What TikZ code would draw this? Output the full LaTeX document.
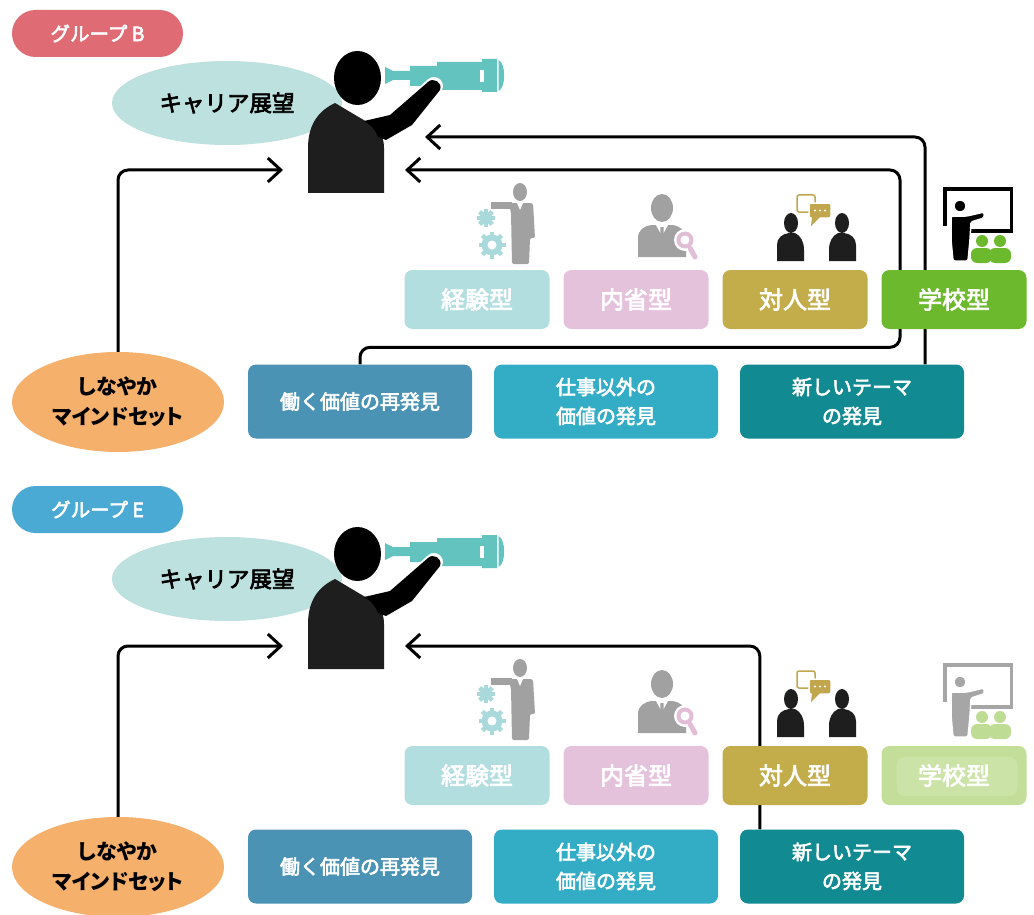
\documentclass[tikz,border=0pt]{standalone}
\usepackage{fontspec}
\setmainfont{Noto Sans CJK JP}
\newfontfamily\medfont[FakeBold=3]{Noto Sans CJK JP}
\usetikzlibrary{arrows.meta,shapes.geometric,backgrounds}

\definecolor{groupBc}{HTML}{DF6B74}
\definecolor{groupEc}{HTML}{4BAAD3}
\definecolor{visionc}{HTML}{BCE1DE}
\definecolor{scopec}{HTML}{62C3BF}
\definecolor{bodyc}{HTML}{1E1E1E}
\definecolor{expc}{HTML}{B3DEDF}
\definecolor{reflc}{HTML}{E4C2DC}
\definecolor{interc}{HTML}{C3AC4A}
\definecolor{schoolc}{HTML}{6DB92E}
\definecolor{schoolfadec}{HTML}{C3DE98}
\definecolor{schoolinnerc}{HTML}{CCE3A7}
\definecolor{workc}{HTML}{4B93B5}
\definecolor{otherc}{HTML}{33ADC6}
\definecolor{themec}{HTML}{118A91}
\definecolor{flexc}{HTML}{F5B06C}
\definecolor{gearc}{HTML}{A9D9DB}
\definecolor{iconc}{HTML}{A0A1A0}
\definecolor{lensc}{HTML}{E2BDD8}
\definecolor{bubblec}{HTML}{C2A64E}
\definecolor{personc}{HTML}{1E1E1E}
\definecolor{boardfadec}{HTML}{A6A6A6}
\definecolor{audiencefadec}{HTML}{BFDC95}

\tikzset{
  pill/.style={rounded corners=23.5pt, minimum width=171pt, minimum height=47pt,
    inner sep=0pt, text=white, font=\medfont\fontsize{19.5}{19.5}\selectfont},
  typebox/.style={rounded corners=8pt, minimum width=145pt, minimum height=59pt,
    inner sep=0pt, text=white, font=\medfont\fontsize{24}{24}\selectfont},
  findbox/.style={rounded corners=8pt, minimum width=224pt, minimum height=74pt,
    inner sep=0pt, text=white, align=center, font=\medfont\fontsize{20}{29}\selectfont},
  vision/.style={ellipse, fill=visionc, minimum width=230pt, minimum height=84pt,
    inner sep=0pt, font=\medfont\fontsize{22.5}{22.5}\selectfont},
  mindset/.style={ellipse, fill=flexc, minimum width=212pt, minimum height=100pt,
    inner sep=0pt, align=center,
    font=\bfseries\addfontfeatures{RawFeature=+palt}\fontsize{21}{30}\selectfont},
  flow/.style={line width=3pt, rounded corners=10pt,
    -{Straight Barb[length=13pt,width=24pt]}},
}

% gear: x, y, radius, hole radius
\newcommand{\drawgear}[4]{%
  \fill[gearc] (#1,#2) circle (#3pt);
  \foreach \a in {0,45,...,315}
    \fill[gearc, shift={(#1,#2)}, rotate=\a] (-2.2pt,0pt) rectangle (2.2pt,#3pt+3pt);
  \fill[white] (#1,#2) circle (#4pt);
}

% man with the spyglass
\newcommand{\lookout}{%
  \fill[scopec] (385,67) -- (393,71) -- (410,71) -- (410,66) -- (437,66) -- (437,62)
    -- (482,62) -- (482,59) -- (497,59) -- (497,92) -- (482,92) -- (482,90)
    -- (437,90) -- (437,86) -- (410,86) -- (410,80) -- (393,80) -- (385,84) -- cycle;
  \fill[scopec] (498.5,60) .. controls (506,63) and (506,88) .. (498.5,91) -- cycle;
  \fill[white] (480,70) rectangle (484,82);
  \fill[bodyc] (308,193) -- (308,148) .. controls (308,125) and (318,111) .. (335,103)
    -- (367,122) .. controls (378,127) and (384,135) .. (384,148) -- (384,193) -- cycle;
  \draw[white, line width=18pt, line cap=round] (412,106) -- (434,86);
  \fill[black] (364,121) -- (390,115) -- (428,82) .. controls (433,77) and (443,82) .. (440,90)
    -- (412,125) -- (386,140) -- (378,137) .. controls (375,129) and (371,125) .. cycle;
  \fill[black] (357.5,78) ellipse (23.5pt and 27pt);
}

\newcommand{\expicon}{%
  \fill[iconc] (520,192) ellipse (7pt and 9pt);
  \fill[iconc, rounded corners=2pt] (508,203) -- (533,203) -- (535,238) -- (530,238)
    -- (529,264) -- (512,264) -- (511,212) -- cycle;
  \fill[iconc] (491,202) rectangle (512,209);
  \fill[white] (517,203) -- (520,210) -- (523,203) -- cycle;
  \drawgear{486}{218}{6}{0}
  \drawgear{492}{245}{10.5}{4.5}
}

\newcommand{\reflicon}{%
  \fill[iconc] (662,208) ellipse (11pt and 14pt);
  \fill[iconc] (638,257) -- (638,238) .. controls (638,230) and (644,226) .. (652,225)
    -- (672,225) .. controls (680,226) and (685,230) .. (686,238) -- (686,257) -- cycle;
  \fill[white] (656,225) -- (662,236) -- (668,225) -- cycle;
  \fill[iconc] (660.5,227) -- (663.5,227) -- (664,240) -- (662,243) -- (660,240) -- cycle;
  \fill[white] (685,240) circle (11pt);
  \draw[lensc, line width=4pt] (685,240) circle (6.5pt);
  \draw[lensc, line width=5pt, line cap=round] (690,248) -- (695,257);
}

\newcommand{\intericon}{%
  \draw[bubblec, line width=1.5pt, rounded corners=2pt] (797,195) rectangle (815,212);
  \fill[bubblec, draw=white, line width=1.5pt, rounded corners=2pt] (809,203) rectangle (831,218);
  \fill[bubblec] (812,217) -- (811,226) -- (820,217) -- cycle;
  \foreach \d in {815,820,825} \fill[white] (\d,210.5) circle (1.2pt);
  \fill[personc] (791,223) ellipse (7pt and 10pt);
  \fill[personc] (842,223) ellipse (7pt and 10pt);
  \fill[personc] (777,261) -- (777,245) .. controls (777,238) and (782,234) .. (789,233)
    -- (795,233) .. controls (801,236) and (804,242) .. (804,250) -- (804,261) -- cycle;
  \fill[personc] (856,261) -- (856,245) .. controls (856,238) and (851,234) .. (844,233)
    -- (838,233) .. controls (832,236) and (829,242) .. (829,250) -- (829,261) -- cycle;
}

% board/teacher colour, audience colour
\newcommand{\schoolicon}[2]{%
  \draw[#1, line width=3.5pt] (970,231) -- (1011.5,231) -- (1011.5,189) -- (945,189) -- (945,226);
  \fill[#1, draw=white, line width=1.5pt] (960,206) circle (6pt);
  \fill[#1, draw=white, line width=1.5pt, rounded corners=1.5pt] (951,216) -- (967,216)
    -- (984,212) -- (984,218) -- (971,222) -- (970,240) -- (968,261) -- (953,261)
    -- (951,240) -- cycle;
  \fill[#2] (982,241) circle (6pt);
  \fill[#2] (1000,241) circle (6pt);
  \fill[#2, rounded corners=6pt] (971,263) rectangle (992,248);
  \fill[#2, rounded corners=6pt] (989,263) rectangle (1011,248);
}

\begin{document}
\begin{tikzpicture}[x=1pt, y=-1pt]
\useasboundingbox (0,0) rectangle (1034,915);

% ---- group B ----
\node[pill, fill=groupBc] (groupB) at (97.5,33.5) {グループ B};
\node[vision] (visionB) at (227,103) {キャリア展望};
\lookout
\coordinate (inB1) at (283,170);
\coordinate (inB2) at (405,170);
\coordinate (inB3) at (425,137);
\coordinate (bendB) at (900,170);

\expicon
\reflicon
\intericon
\schoolicon{black}{schoolc}
\node[typebox, fill=expc] (expB) at (477,299.5) {経験型};
\node[typebox, fill=reflc] (reflB) at (636,299.5) {内省型};
\node[typebox, fill=interc] (interB) at (795,299.5) {対人型};
\node[typebox, fill=schoolc] (schoolB) at (954,299.5) {学校型};

\node[mindset] (mindB) at (118,402) {しなやか\\マインドセット};
\node[findbox, fill=workc] (workB) at (360,401.5) {働く価値の再発見};
\node[findbox, fill=otherc] (otherB) at (606,401.5) {仕事以外の\\価値の発見};
\node[findbox, fill=themec] (themeB) at (852,401.5) {新しいテーマ\\の発見};

% ---- group E ----
\node[pill, fill=groupEc] (groupE) at (97.5,509.5) {グループ E};
\node[vision] (visionE) at (227,579) {キャリア展望};
\begin{scope}[shift={(0,476)}]
  \lookout
  \expicon
  \reflicon
  \intericon
  \schoolicon{boardfadec}{audiencefadec}
\end{scope}
\coordinate (inE1) at (283,646);
\coordinate (inE2) at (405,646);

\node[typebox, fill=expc] (expE) at (477,775.5) {経験型};
\node[typebox, fill=reflc] (reflE) at (636,775.5) {内省型};
\node[typebox, fill=interc] (interE) at (795,775.5) {対人型};
\node[typebox, fill=schoolfadec, path picture={
    \fill[schoolinnerc] ([xshift=15pt,yshift=-11pt]path picture bounding box.north west)
      rectangle ([xshift=-9pt,yshift=9pt]path picture bounding box.south east);}]
  (schoolE) at (954,775.5) {学校型};

\node[mindset] (mindE) at (118,867) {しなやか\\マインドセット};
\node[findbox, fill=workc] (workE) at (360,866.5) {働く価値の再発見};
\node[findbox, fill=otherc] (otherE) at (606,866.5) {仕事以外の\\価値の発見};
\node[findbox, fill=themec] (themeE) at (852,866.5) {新しいテーマ\\の発見};

% connectors run under the boxes
\begin{scope}[on background layer]
  \fill[white] (0,0) rectangle (1034,915);
  \draw[flow] (mindB.north) |- (inB1);
  \draw[flow] (workB.north) -- ++(0,-17) -| (bendB) -- (inB2);
  \draw[flow] ([xshift=73pt]themeB.north) |- (inB3);
  \draw[flow] (mindE.north) |- (inE1);
  \draw[flow] ([xshift=20pt]themeE.north west) |- (inE2);
\end{scope}
\end{tikzpicture}
\end{document}
